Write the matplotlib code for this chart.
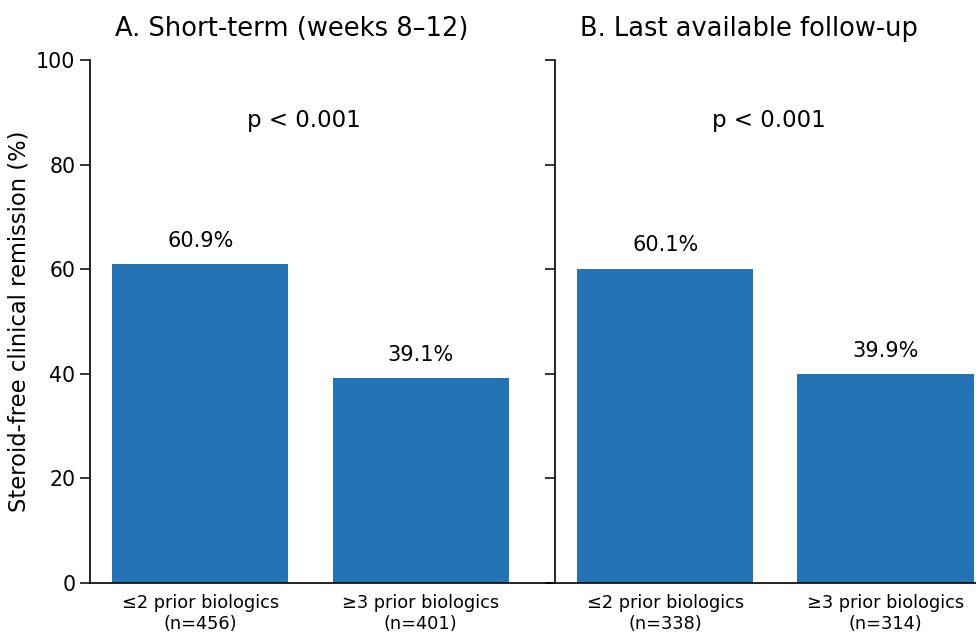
import numpy as np
import matplotlib
matplotlib.use("Agg")
import matplotlib.pyplot as plt

# remission rates (%) by number of prior biologics
groups = ["\u22642 prior biologics", "\u22653 prior biologics"]
short_term_n = [456, 401]
short_term_pct = [60.9, 39.1]
last_fu_n = [338, 314]
last_fu_pct = [60.1, 39.9]
panel_titles = ["A. Short-term (weeks 8\u201312)", "B. Last available follow-up"]
p_labels = ["p < 0.001", "p < 0.001"]

BAR_COLOR = "#2473b6"

fig = plt.figure(figsize=(9.76, 6.37), dpi=100)
ax1 = fig.add_axes([0.0922, 0.0848, 0.4744, 0.821])
ax2 = fig.add_axes([0.5686, 0.0848, 0.4744, 0.821])


def draw_panel(ax, pct, n, title, ptxt, title_x, show_ylabels):
    x = np.arange(len(pct))
    ax.bar(x, pct, width=0.8, color=BAR_COLOR)
    for xi, v in zip(x, pct):
        ax.text(xi, v + 2.6, f"{v:.1f}%", ha="center", va="bottom", fontsize=15)
    ax.text(0.47, 88.5, ptxt, ha="center", va="center", fontsize=16.5)
    ax.set_xlim(-0.5, 1.6)
    ax.set_ylim(0, 100)
    ax.set_xticks(x)
    ax.set_xticklabels([f"{g}\n(n={k})" for g, k in zip(groups, n)], fontsize=12.8)
    ax.tick_params(axis="x", length=0, pad=8)
    ax.set_yticks([0, 20, 40, 60, 80, 100])
    ax.tick_params(axis="y", length=7, width=1.1, labelsize=14.8)
    if not show_ylabels:
        ax.set_yticklabels([])
    ax.spines["top"].set_visible(False)
    ax.spines["right"].set_visible(False)
    for s in ("left", "bottom"):
        ax.spines[s].set_linewidth(1.2)
    ax.set_title(title, fontsize=18.5, x=title_x, pad=17)


draw_panel(ax1, short_term_pct, short_term_n, panel_titles[0], p_labels[0], 0.436, True)
draw_panel(ax2, last_fu_pct, last_fu_n, panel_titles[1], p_labels[1], 0.418, False)
ax1.set_ylabel("Steroid-free clinical remission (%)", fontsize=16.3, labelpad=4)

fig.savefig("out.png", dpi=100)
